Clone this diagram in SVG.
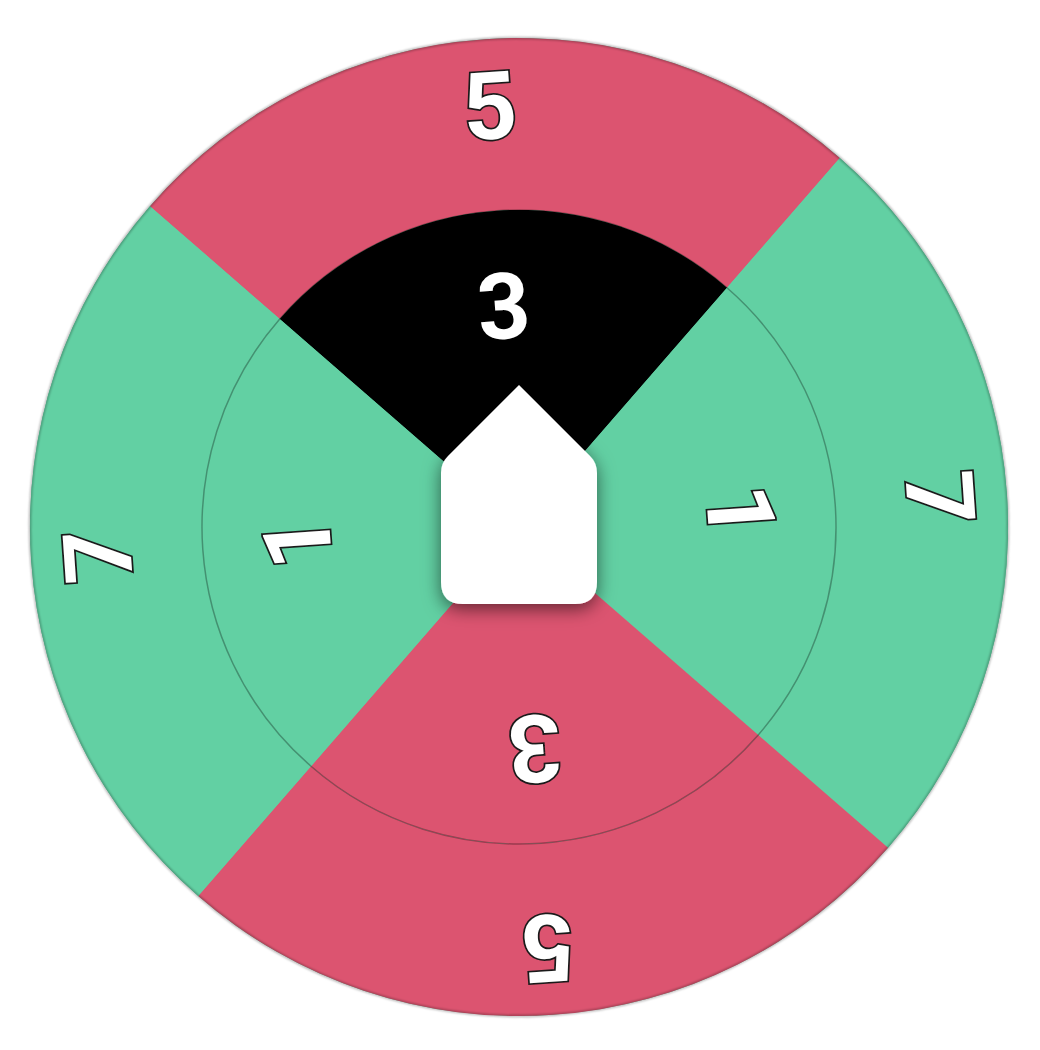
<svg xmlns="http://www.w3.org/2000/svg" width="1040" height="1050" viewBox="0 0 1040 1050">
<defs>
<style>
.red{fill:#DC5470}
.green{fill:#62D0A3}
.black{fill:#000000}
.lbl{font-family:Roboto,"Liberation Sans",Arial,sans-serif;font-weight:bold;font-size:94px;fill:#ffffff;stroke:#1a1a1a;stroke-width:3.5;paint-order:stroke;text-anchor:middle}
.lblin{font-family:Roboto,"Liberation Sans",Arial,sans-serif;font-weight:bold;font-size:92px;fill:#ffffff;stroke:#000;stroke-width:2;paint-order:stroke;text-anchor:middle}
</style>
<path id="outerSector" d="M 173.2 181.2 A 489 489 0 0 1 864.8 181.2 L 743.2 302.8 A 317 317 0 0 0 294.8 302.8 Z"/>
<path id="innerSector" d="M 519 527 L 294.8 302.8 A 317 317 0 0 1 743.2 302.8 Z"/>
<filter id="edgeBlur" x="-5%" y="-5%" width="110%" height="110%"><feGaussianBlur stdDeviation="1"/></filter>
<filter id="shadow" x="-40%" y="-40%" width="180%" height="180%"><feDropShadow dx="0" dy="5" stdDeviation="9" flood-color="#000" flood-opacity="0.55"/></filter>
</defs>
<g id="wheel" transform="rotate(-4 519 527)">
<circle id="base" cx="519" cy="527" r="489" class="green"/>
<g id="outer-top"><use href="#outerSector" class="red"/><text class="lbl" x="519" y="138">5</text></g>
<g id="outer-right" transform="rotate(90 519 527)"><use href="#outerSector" class="green"/><text class="lbl" x="519" y="138">7</text></g>
<g id="outer-bottom" transform="rotate(180 519 527)"><use href="#outerSector" class="red"/><text class="lbl" x="519" y="138">5</text></g>
<g id="outer-left" transform="rotate(270 519 527)"><use href="#outerSector" class="green"/><text class="lbl" x="519" y="138">7</text></g>
<g id="inner-top"><use href="#innerSector" class="black"/></g>
<g id="inner-right" transform="rotate(90 519 527)"><use href="#innerSector" class="green"/></g>
<g id="inner-bottom" transform="rotate(180 519 527)"><use href="#innerSector" class="red"/></g>
<g id="inner-left" transform="rotate(270 519 527)"><use href="#innerSector" class="green"/></g>
<g id="connectors">
<circle cx="519" cy="527" r="317" fill="none" stroke="#000" stroke-opacity="0.3" stroke-width="1.5"/>
<circle cx="519" cy="527" r="489" fill="none" stroke="#000" stroke-opacity="0.35" stroke-width="2" filter="url(#edgeBlur)"/>
</g>
<g id="inner-labels">
<text class="lblin" x="519" y="338">3</text>
<text class="lbl" x="519" y="338" transform="rotate(90 519 527)">1</text>
<text class="lbl" x="519" y="338" transform="rotate(180 519 527)">3</text>
<text class="lbl" x="519" y="338" transform="rotate(270 519 527)">1</text>
</g>
</g>
<g id="center-pointer">
<path d="M 519 385 L 590 456 Q 597 463 597 473 L 597 582 Q 597 604 575 604 L 463 604 Q 441 604 441 582 L 441 473 Q 441 463 448 456 Z" fill="#ffffff" filter="url(#shadow)"/>
</g>
</svg>
